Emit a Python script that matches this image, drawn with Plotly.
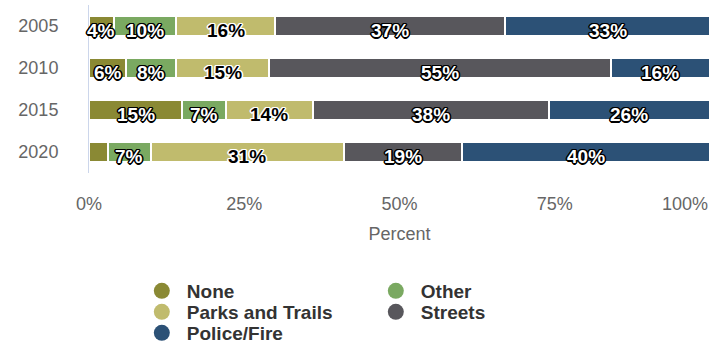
import plotly.graph_objects as go

# Share of spending priority by survey year (percent)
years = ["2005", "2010", "2015", "2020"]
none_vals = [4, 6, 15, 3]
other_vals = [10, 8, 7, 7]
parks_vals = [16, 15, 14, 31]
streets_vals = [37, 55, 38, 19]
police_vals = [33, 16, 26, 40]

x_ticks = [0, 25, 50, 75, 100]
x_tick_labels = ["0%", "25%", "50%", "75%", "100%"]

FONT = "Liberation Sans, Arial, sans-serif"


def outline(c):
    offs = [(-1, -1), (1, -1), (-1, 1), (1, 1), (0, 1), (0, -1), (1, 0), (-1, 0),
            (0, 1.5), (0, -1.5), (1.5, 0), (-1.5, 0)]
    return ", ".join(f"{dx}px {dy}px 0 {c}" for dx, dy in offs)


DARK_OUTLINE = outline("#000")
LIGHT_OUTLINE = outline("#fff")

# name, values, fill, label colour, label outline, legend row
series = [
    ("None", none_vals, "#8a8934", "#ffffff", DARK_OUTLINE, "legend"),
    ("Other", other_vals, "#7aa961", "#ffffff", DARK_OUTLINE, "legend"),
    ("Parks and Trails", parks_vals, "#c0bb6d", "#000000", LIGHT_OUTLINE, "legend2"),
    ("Streets", streets_vals, "#58575c", "#ffffff", DARK_OUTLINE, "legend2"),
    ("Police/Fire", police_vals, "#2c5176", "#ffffff", DARK_OUTLINE, "legend3"),
]

fig = go.Figure()
for name, vals, color, txt_color, shadow, _ in series:
    fig.add_trace(go.Bar(
        y=years, x=vals, orientation="h", name=name,
        marker=dict(color=color, line=dict(color="#ffffff", width=2)),
        showlegend=False, hoverinfo="skip",
    ))

# value labels, centred on each segment and sitting slightly low in the bar
annotations = []
base = [0] * len(years)
for name, vals, color, txt_color, shadow, _ in series:
    for i, v in enumerate(vals):
        if v > 3:
            annotations.append(dict(
                x=base[i] + v / 2, y=i, xref="x", yref="y",
                text=f"{v}%", showarrow=False, yanchor="middle", yshift=-4,
                font=dict(family=FONT, size=19, color=txt_color, weight="bold", shadow=shadow),
            ))
        base[i] += v

# last tick label kept inside the canvas, right-aligned to the axis end
annotations.append(dict(
    x=x_ticks[-1], y=0, xref="x", yref="paper", text=x_tick_labels[-1],
    showarrow=False, xanchor="right", yanchor="middle", yshift=-31, xshift=0,
    font=dict(family=FONT, size=18, color="#666666"),
))

# circular legend markers, one legend per row
for name, vals, color, txt_color, shadow, leg in series:
    fig.add_trace(go.Scatter(
        x=[None], y=[None], mode="markers", name=name, legend=leg,
        marker=dict(color=color, size=16, symbol="circle"),
        showlegend=True,
    ))

legend_common = dict(
    orientation="h", x=0.077, xanchor="left", xref="paper",
    yref="container", yanchor="middle",
    entrywidth=179, entrywidthmode="pixels", itemwidth=40,
    font=dict(family=FONT, size=19, color="#333333", weight="bold"),
    itemsizing="trace", traceorder="normal", bgcolor="rgba(0,0,0,0)",
)

fig.update_layout(
    template="none",
    width=726, height=348,
    margin=dict(l=89, r=16, t=5, b=175),
    barmode="stack", bargap=0.525,
    paper_bgcolor="#ffffff", plot_bgcolor="#ffffff",
    font=dict(family=FONT, color="#666666", size=18),
    annotations=annotations,
    xaxis=dict(
        range=[0, 100], tickvals=x_ticks[:-1], ticktext=x_tick_labels[:-1],
        showgrid=False, zeroline=False, showline=False, ticks="",
        tickfont=dict(size=18, color="#666666"), ticklabelstandoff=18,
        title=dict(text="Percent", font=dict(size=18, color="#666666"), standoff=14),
        automargin=False,
    ),
    yaxis=dict(
        type="category", categoryorder="array", categoryarray=years,
        range=[len(years) - 0.5, -0.5], autorange=False,
        showgrid=False, zeroline=False,
        showline=True, linecolor="#ccd6eb", linewidth=1, ticks="",
        tickfont=dict(size=18, color="#666666"), ticklabelstandoff=26,
        automargin=False,
    ),
    legend=dict(legend_common, y=1 - 291 / 348),
    legend2=dict(legend_common, y=1 - 312 / 348),
    legend3=dict(legend_common, y=1 - 333 / 348),
)

fig.write_html("out.html")
